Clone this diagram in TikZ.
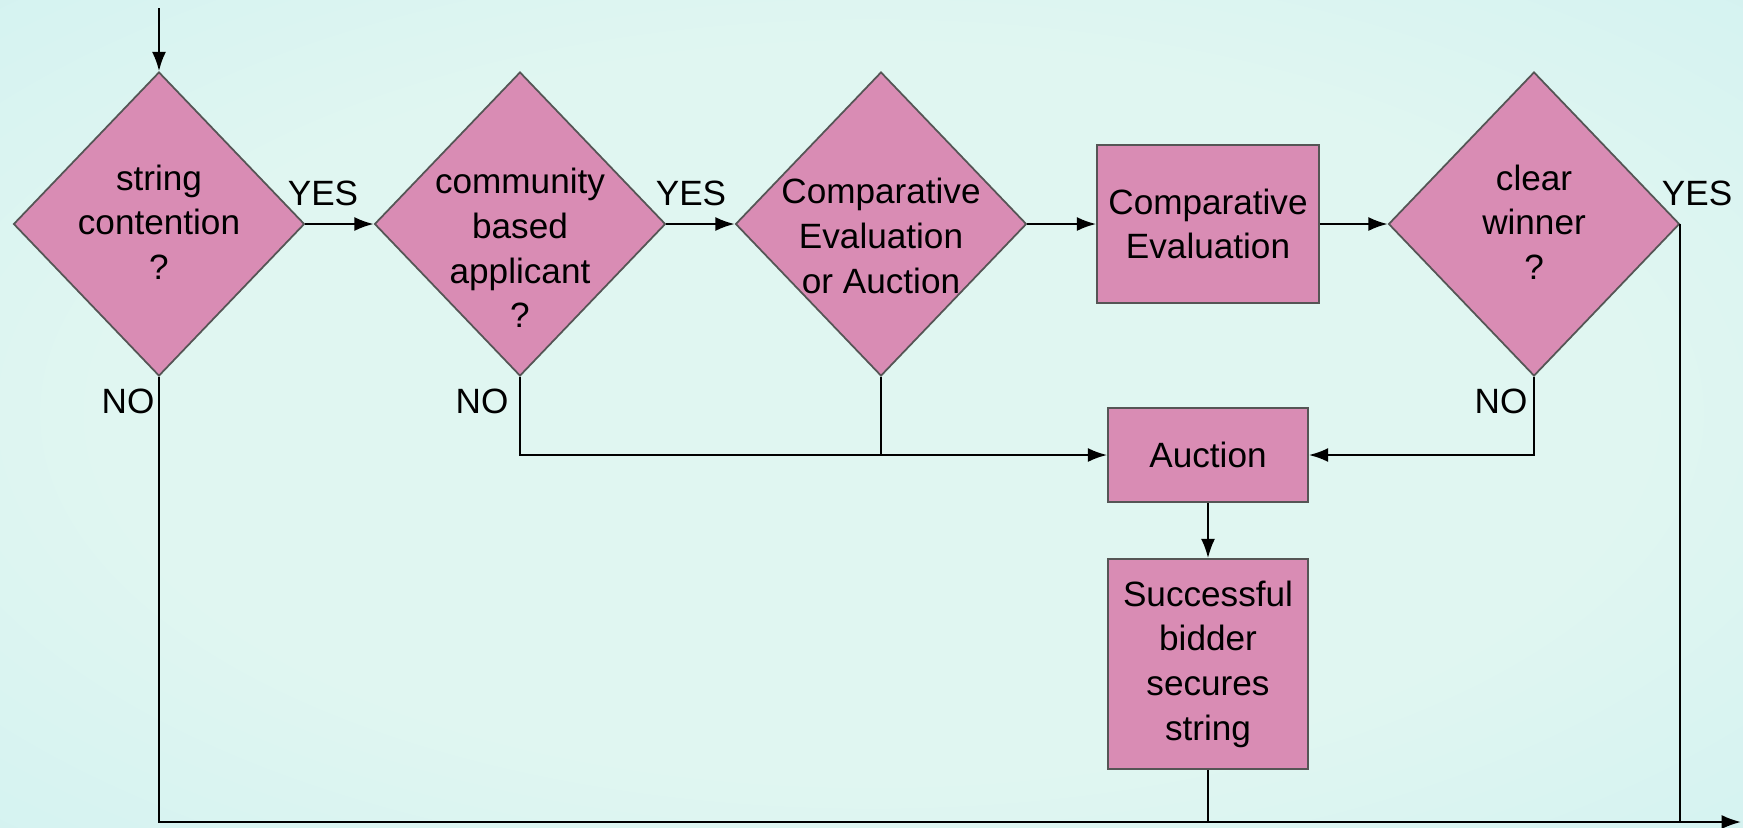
\documentclass[tikz,border=0pt]{standalone}
\usepackage{fontspec}
\setmainfont{Liberation Sans}
\usetikzlibrary{shapes.geometric,arrows.meta}
\definecolor{pinkfill}{HTML}{D98CB4}
\definecolor{edgegray}{HTML}{555555}
\definecolor{bgin}{HTML}{E0F6F1}
\definecolor{bgmid}{HTML}{CBEFF0}
\definecolor{bgout}{HTML}{A8DAE6}
\pgfdeclareradialshading{bgshade}{\pgfpoint{0bp}{0bp}}{color(0bp)=(bgin); color(22bp)=(bgin); color(48bp)=(bgmid); color(71bp)=(bgout); color(100bp)=(bgout)}
\begin{document}
\begin{tikzpicture}[x=0.1mm,y=-0.1mm,
  dia/.style={diamond, draw=edgegray, fill=pinkfill, line width=0.5pt, minimum width=29.1mm, minimum height=30.4mm, inner sep=0pt},
  box/.style={rectangle, draw=edgegray, fill=pinkfill, line width=0.5pt, inner sep=0pt, align=center, font=\fontsize{10}{12.7}\selectfont},
  txt/.style={align=center, inner sep=0pt, font=\fontsize{10}{12.7}\selectfont},
  lbl/.style={inner sep=0pt, font=\fontsize{10}{12}\selectfont},
  flow/.style={line width=0.6pt, -{Latex[length=5.5pt,width=4pt]}},
  conn/.style={line width=0.6pt}]
\shade[shading=bgshade] (0,0) rectangle (1743,827);
\useasboundingbox (0,0) rectangle (1743,827);
% decisions
\node[dia] (d1) at (159,224) {};
\node[dia] (d2) at (520,224) {};
\node[dia] (d3) at (881,224) {};
\node[dia] (d4) at (1534,224) {};
\node[txt] (t1) at (159,222) {string\\contention\\?};
\node[txt] (t2) at (520,248) {community\\based\\applicant\\?};
\node[txt] (t3) at (881,236) {Comparative\\Evaluation\\or Auction};
\node[txt] (t4) at (1534,222) {clear\\winner\\?};
% boxes
\node[box, minimum width=22.2mm, minimum height=15.8mm] (ce) at (1208,224) {Comparative\\Evaluation};
\node[box, minimum width=20mm, minimum height=9.4mm] (auc) at (1208,455) {Auction};
\node[box, minimum width=20mm, minimum height=21mm] (succ) at (1208,664) {Successful\\bidder\\secures\\string};
% labels
\node[lbl] (y1) at (323,193) {YES};
\node[lbl] (y2) at (691,193) {YES};
\node[lbl] (y3) at (1697,193) {YES};
\node[lbl] (n1) at (128,401) {NO};
\node[lbl] (n2) at (482,401) {NO};
\node[lbl] (n3) at (1501,401) {NO};
% connectors
\coordinate (start) at (159,8);
\coordinate (end) at (1741,822);
\draw[flow] (start) -- (d1.north);
\draw[flow] (d1.east) -- (d2.west);
\draw[flow] (d2.east) -- (d3.west);
\draw[flow] (d3.east) -- (ce.west);
\draw[flow] (ce.east) -- (d4.west);
\draw[flow] (d2.south) |- (auc.west);
\draw[conn] (d3.south) -- (d3.south |- auc.west);
\draw[flow] (d4.south) |- (auc.east);
\draw[flow] (auc.south) -- (succ.north);
\draw[flow] (d1.south) |- (end);
\draw[conn] (d4.east) -- (d4.east |- end);
\draw[conn] (succ.south) -- (succ.south |- end);
\end{tikzpicture}
\end{document}
